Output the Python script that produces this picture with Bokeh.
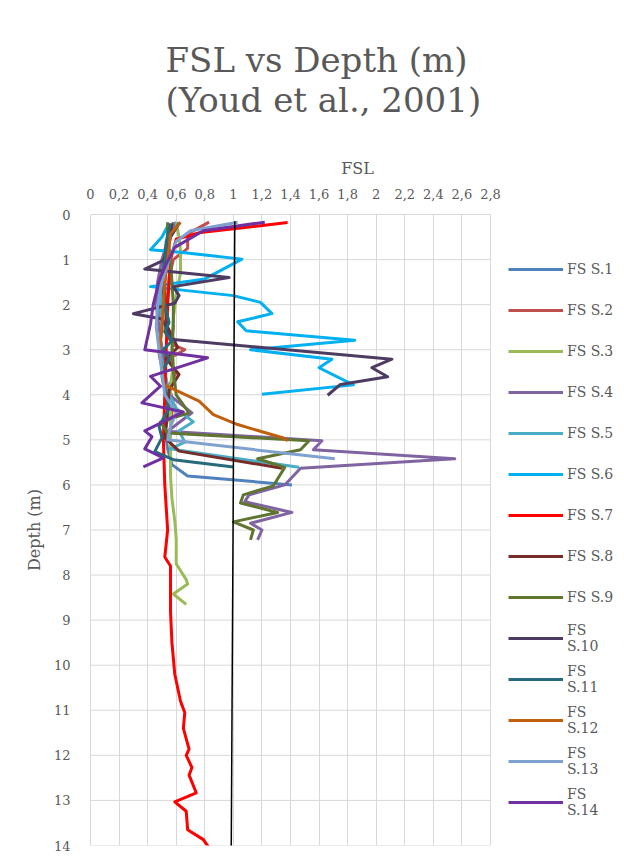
from bokeh.plotting import figure
from bokeh.models import Legend, LegendItem, FixedTicker, Range1d
from bokeh.embed import file_html
from bokeh.resources import INLINE

# ---------------- data ----------------
x_ticks = [0, 0.2, 0.4, 0.6, 0.8, 1.0, 1.2, 1.4, 1.6, 1.8, 2.0, 2.2, 2.4, 2.6, 2.8]
x_tick_labels = ["0", "0,2", "0,4", "0,6", "0,8", "1", "1,2", "1,4", "1,6", "1,8",
                 "2", "2,2", "2,4", "2,6", "2,8"]
y_ticks = [0, 1, 2, 3, 4, 5, 6, 7, 8, 9, 10, 11, 12, 13, 14]

s1_depth = [0.17, 0.4, 0.8, 1.2, 1.6, 2.0, 2.4, 2.8, 3.2, 3.6, 4.0, 4.4, 4.8, 5.2, 5.55, 5.8, 6.0]
s1_fsl = [0.6, 0.55, 0.52, 0.5, 0.48, 0.47, 0.5, 0.49, 0.52, 0.5, 0.53, 0.55, 0.52, 0.54, 0.57, 0.68, 1.41]

s2_depth = [0.17, 0.43, 0.75, 1.0, 1.4, 1.8, 2.2, 2.6, 2.9, 3.0, 3.2, 3.5, 3.8, 4.2, 4.6]
s2_fsl = [0.83, 0.68, 0.68, 0.58, 0.55, 0.54, 0.53, 0.52, 0.58, 0.66, 0.55, 0.6, 0.55, 0.58, 0.56]

s3_depth = [0.17, 0.5, 0.8, 1.3, 1.8, 2.3, 2.8, 3.3, 3.8, 4.3, 4.8, 5.3, 5.8, 6.3, 6.8, 7.2,
            7.75, 8.1, 8.2, 8.42, 8.65]
s3_fsl = [0.6, 0.62, 0.63, 0.63, 0.6, 0.58, 0.57, 0.58, 0.56, 0.56, 0.56, 0.56, 0.56, 0.57,
          0.59, 0.6, 0.6, 0.67, 0.68, 0.58, 0.67]

s4_depth = [0.17, 0.5, 1.0, 1.5, 2.0, 2.5, 3.0, 3.5, 4.0, 4.4, 4.81, 5.02, 5.22, 5.42, 5.63,
            6.0, 6.22, 6.37, 6.61, 6.85, 7.0, 7.22]
s4_fsl = [0.58, 0.55, 0.5, 0.47, 0.46, 0.48, 0.5, 0.52, 0.55, 0.71, 0.54, 1.62, 1.56, 2.55,
          1.47, 1.36, 1.11, 1.08, 1.41, 1.12, 1.2, 1.17]

s5_depth = [0.17, 0.5, 1.0, 1.5, 2.0, 2.5, 3.0, 3.5, 4.0, 4.3, 4.6, 4.8, 5.05, 5.2, 5.61]
s5_fsl = [0.62, 0.56, 0.53, 0.5, 0.49, 0.5, 0.48, 0.52, 0.55, 0.6, 0.72, 0.62, 0.66, 0.56, 1.46]

s6_depth = [0.2, 0.5, 0.78, 0.84, 0.99, 1.28, 1.43, 1.6, 1.65, 1.8, 1.95, 2.2, 2.38, 2.58,
            2.79, 3.0, 3.21, 3.4, 3.78, 3.99]
s6_fsl = [0.55, 0.5, 0.42, 0.63, 1.06, 0.89, 0.8, 0.42, 0.56, 1.0, 1.19, 1.27, 1.03, 1.09,
          1.85, 1.12, 1.69, 1.6, 1.84, 1.2]

s7_depth = [0.18, 0.4, 0.55, 1.0, 2.0, 3.0, 4.0, 5.0, 6.0, 7.0, 7.6, 7.8, 8.15, 8.8, 9.5,
            10.2, 10.8, 11.05, 11.4, 11.86, 12.0, 12.27, 12.44, 12.83, 13.03, 13.24, 13.65,
            13.87, 14.05]
s7_fsl = [1.38, 0.77, 0.6, 0.56, 0.54, 0.53, 0.52, 0.51, 0.52, 0.54, 0.52, 0.56, 0.56, 0.56,
          0.57, 0.59, 0.63, 0.66, 0.65, 0.69, 0.67, 0.71, 0.69, 0.74, 0.59, 0.67, 0.68, 0.79,
          0.83]

s8_depth = [0.2, 0.6, 1.0, 1.5, 2.0, 2.5, 2.95, 3.2, 3.55, 3.9, 4.3, 4.7, 4.95, 5.25, 5.63]
s8_fsl = [0.57, 0.55, 0.53, 0.52, 0.52, 0.54, 0.61, 0.53, 0.62, 0.55, 0.54, 0.53, 0.52, 0.62, 1.34]

s9_depth = [0.17, 0.5, 1.0, 1.5, 2.0, 2.5, 3.0, 3.5, 4.0, 4.4, 4.6, 4.85, 5.02, 5.22, 5.42,
            5.61, 6.02, 6.22, 6.4, 6.61, 6.82, 7.0, 7.22]
s9_fsl = [0.54, 0.54, 0.56, 0.57, 0.58, 0.58, 0.57, 0.58, 0.6, 0.69, 0.49, 0.54, 1.53, 1.47,
          1.17, 1.36, 1.28, 1.07, 1.05, 1.31, 1.0, 1.14, 1.12]

s10_depth = [0.2, 0.5, 0.8, 1.02, 1.21, 1.4, 1.6, 1.8, 1.97, 2.2, 2.32, 2.55, 2.77, 3.21,
             3.4, 3.6, 3.77, 4.01]
s10_fsl = [0.62, 0.56, 0.53, 0.51, 0.38, 0.97, 0.58, 0.62, 0.59, 0.3, 0.5, 0.54, 0.56, 2.11,
           1.97, 2.08, 1.75, 1.66]

s11_depth = [0.2, 0.6, 1.0, 1.5, 2.0, 2.4, 2.6, 2.8, 3.0, 3.2, 3.5, 3.9, 4.3, 4.7, 4.95,
             5.26, 5.44, 5.6]
s11_fsl = [0.56, 0.53, 0.52, 0.5, 0.52, 0.55, 0.52, 0.57, 0.51, 0.55, 0.5, 0.52, 0.55, 0.48,
           0.5, 0.45, 0.58, 1.0]

s12_depth = [0.17, 0.43, 0.99, 1.5, 2.0, 2.5, 3.1, 3.4, 3.77, 4.14, 4.44, 4.66, 4.96, 5.02]
s12_fsl = [0.63, 0.56, 0.54, 0.52, 0.51, 0.5, 0.48, 0.5, 0.51, 0.76, 0.86, 1.03, 1.35, 1.38]

s13_depth = [0.17, 0.36, 0.6, 1.0, 1.5, 2.0, 2.5, 3.0, 3.5, 4.0, 4.4, 4.7, 5.0, 5.42]
s13_fsl = [1.03, 0.7, 0.6, 0.55, 0.5, 0.47, 0.46, 0.48, 0.5, 0.52, 0.6, 0.56, 0.54, 1.71]

s14_depth = [0.17, 0.36, 0.73, 1.1, 1.47, 1.99, 2.43, 3.0, 3.18, 3.59, 3.81, 4.18, 4.38,
             4.8, 4.93, 5.2, 5.4, 5.6]
s14_fsl = [1.22, 0.79, 0.59, 0.53, 0.48, 0.44, 0.42, 0.38, 0.82, 0.42, 0.49, 0.36, 0.65,
           0.38, 0.43, 0.38, 0.51, 0.37]

ref_depth = [0.15, 14.2]
ref_fsl = [1.01, 0.985]

series_names = ["FS S.1", "FS S.2", "FS S.3", "FS S.4", "FS S.5", "FS S.6", "FS S.7",
                "FS S.8", "FS S.9", "FS\nS.10", "FS\nS.11", "FS\nS.12", "FS\nS.13", "FS\nS.14"]
series_depths = [s1_depth, s2_depth, s3_depth, s4_depth, s5_depth, s6_depth, s7_depth,
                 s8_depth, s9_depth, s10_depth, s11_depth, s12_depth, s13_depth, s14_depth]
series_fsl = [s1_fsl, s2_fsl, s3_fsl, s4_fsl, s5_fsl, s6_fsl, s7_fsl,
              s8_fsl, s9_fsl, s10_fsl, s11_fsl, s12_fsl, s13_fsl, s14_fsl]

# ---------------- styles / layout ----------------
colors = ["#4F81BD", "#C0504D", "#9BBB59", "#8064A2", "#4BACC6", "#00B0F0", "#FF0000",
          "#772C2A", "#5F7530", "#4D3B62", "#276A7C", "#C0600E", "#7EA1CF", "#7030A0"]
FONT = "DejaVu Serif"
GREY_TXT = "#595959"
GRID = "#D9D9D9"

FRAME_W = 534          # frame spans to the right edge; plot area (0..2.8) uses 400 px
PLOT_W = 400
x_view_end = x_ticks[-1] * FRAME_W / PLOT_W

p = figure(width=624, height=853, output_backend="svg", toolbar_location=None,
           x_axis_location="above",
           x_range=Range1d(0, x_view_end), y_range=Range1d(14, 0),
           min_border_left=90, min_border_right=0, min_border_top=214,
           min_border_bottom=8)

p.title.text = "FSL vs Depth (m)\n(Youd et al., 2001)"
p.title.align = "left"
p.title.offset = 75
p.title.text_font = FONT
p.title.text_font_size = "34px"
p.title.text_font_style = "normal"
p.title.text_color = GREY_TXT
p.title.text_line_height = 1.0
p.title.standoff = 72

p.xaxis.ticker = FixedTicker(ticks=x_ticks)
p.xaxis.major_label_overrides = {t: lab for t, lab in zip(x_ticks, x_tick_labels)}
p.xaxis.bounds = (x_ticks[0], x_ticks[-1])
p.yaxis.ticker = FixedTicker(ticks=y_ticks)
p.xaxis.axis_label = "FSL"
p.yaxis.axis_label = "Depth (m)"
for ax in (p.xaxis, p.yaxis):
    ax.axis_label_text_font = FONT
    ax.axis_label_text_font_size = "16px"
    ax.axis_label_text_font_style = "normal"
    ax.axis_label_text_color = GREY_TXT
    ax.major_label_text_font = FONT
    ax.major_label_text_font_size = "13px"
    ax.major_label_text_color = GREY_TXT
    ax.major_tick_line_color = None
    ax.minor_tick_line_color = None
    ax.axis_line_color = GRID
p.xaxis.major_label_standoff = 10
p.xaxis.axis_label_standoff = 8
p.yaxis.major_label_standoff = 14
p.yaxis.axis_label_standoff = 7

p.xgrid.ticker = FixedTicker(ticks=x_ticks)
p.xgrid.grid_line_color = GRID
p.xgrid.grid_line_width = 1
p.ygrid.visible = False
p.outline_line_color = None
# horizontal gridlines limited to the plot area 0..2.8
p.segment(x0=[x_ticks[0]] * len(y_ticks), x1=[x_ticks[-1]] * len(y_ticks),
          y0=y_ticks, y1=y_ticks, line_color=GRID, line_width=1)

items = []
for name, d, v, c in zip(series_names, series_depths, series_fsl, colors):
    r = p.line(x=v, y=d, line_color=c, line_width=3, line_join="round")
    items.append(LegendItem(label=name, renderers=[r]))

p.line(x=ref_fsl, y=ref_depth, line_color="black", line_width=1.5)

legend = Legend(items=items, location=(418, 25), glyph_width=55, glyph_height=36,
                label_height=36, spacing=5, padding=0, margin=0,
                border_line_color=None, background_fill_alpha=0,
                label_text_font=FONT, label_text_font_size="14px",
                label_text_color=GREY_TXT, label_standoff=4,
                label_text_line_height=1.35)
p.add_layout(legend, "center")

open("out.html", "w").write(file_html(p, INLINE))
